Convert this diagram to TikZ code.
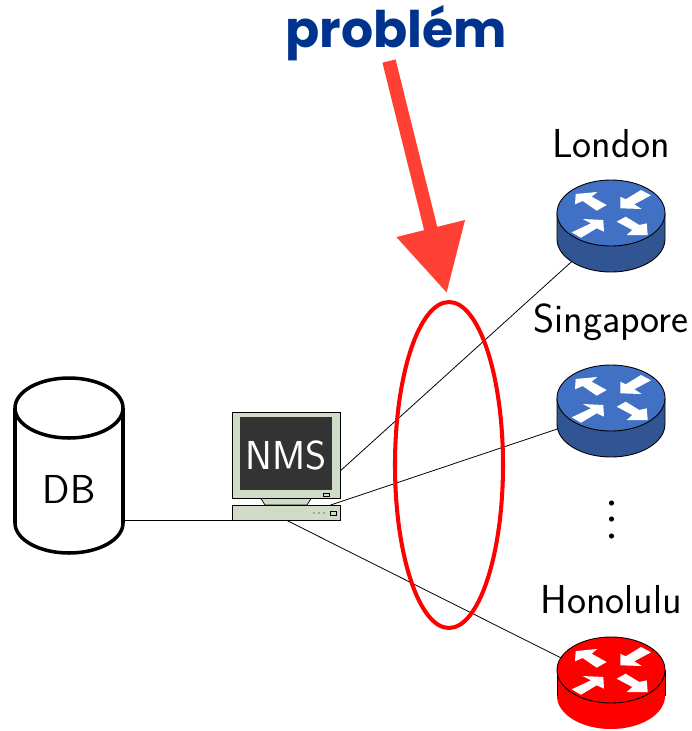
\documentclass[tikz,border=0pt]{standalone}
\usepackage{fontspec}
\newfontfamily\titlefont{Poppins}
\usetikzlibrary{arrows.meta,shapes.geometric}
\definecolor{routerblue}{RGB}{65,113,196}
\definecolor{nmsface}{RGB}{208,220,200}
\definecolor{nmsscreen}{RGB}{51,51,51}
\definecolor{titleblue}{RGB}{0,51,141}
\definecolor{arrowred}{RGB}{255,64,52}
\newcommand{\routerarrows}{
  \fill[white] (-36,-8.7) -- (-35.3,-19) -- (-13.7,-21) -- (-19.3,-16.3) -- (-4.3,-8) -- (-14.3,-2.3) -- (-28.3,-12) -- cycle;
  \fill[white] (9.3,-4.7) -- (30.7,-4) -- (23.3,-8.7) -- (40,-17.7) -- (30,-23) -- (14.7,-13.7) -- (9.3,-16.3) -- cycle;
  \fill[white] (-7.7,7) -- (-28.3,6) -- (-20,10.3) -- (-39.3,19.3) -- (-30,24.7) -- (-14.3,15.3) -- (-7,18.7) -- cycle;
  \fill[white] (36.7,22) -- (15.7,22) -- (21.3,17) -- (5.7,8.7) -- (14.7,3.7) -- (28.3,12) -- (35.7,10.3) -- cycle;
}
\tikzset{
  place/.style={font=\sffamily\fontsize{23}{28}\selectfont, inner sep=0pt},
  link/.style={draw=black, line width=0.45pt},
  router/.pic={
    \fill[#1!75!black] (-54,0) -- (-54,26) arc[x radius=54, y radius=33, start angle=180, end angle=0] -- (54,0) -- cycle;
    \draw[line width=0.5pt] (-54,0) -- (-54,26) arc[x radius=54, y radius=33, start angle=180, end angle=0] -- (54,0);
    \draw[fill=#1, line width=0.5pt] (0,0) ellipse[x radius=54, y radius=33];
    \routerarrows
  },
  redrouter/.pic={
    \fill[red] (-54,0) -- (-54,26) arc[x radius=54, y radius=33, start angle=180, end angle=0] -- (54,0) -- cycle;
    \draw[line width=0.5pt] (-54,0) -- (-54,26);
    \draw[line width=0.5pt] (54,0) -- (54,26);
    \draw[fill=red, line width=0.5pt] (0,0) ellipse[x radius=54, y radius=33];
    \routerarrows
  }
}
\begin{document}
\begin{tikzpicture}[x=0.02cm, y=-0.02cm]
  \useasboundingbox (0,0) rectangle (692,731);
  \coordinate (nms) at (286,520);
  \coordinate (london) at (611,226);
  \coordinate (singapore) at (611,411);
  \coordinate (honolulu) at (611,683);
  \coordinate (arrowstart) at (389,61);

  \foreach \x in {london, singapore, honolulu} {
    \draw[link] (nms) -- (\x);
  }
  \draw[link] (69,520) -- (nms);

  \draw[line width=2pt, fill=white] (15,408) -- (15,523) arc[x radius=54, y radius=30, start angle=180, end angle=0] -- (123,408);
  \draw[line width=2pt, fill=white] (69,408) ellipse[x radius=54, y radius=30];
  \node[place] (db) at (69,489) {DB};

  \draw[fill=nmsface, line width=0.4pt] (260,497) -- (265,505) -- (307,505) -- (312,497) -- cycle;
  \draw[fill=nmsface, line width=0.5pt] (232,412) rectangle (340,498);
  \fill[nmsscreen] (240,417) rectangle (332,490);
  \draw[fill=nmsface, line width=0.5pt] (323,493) rectangle (329,496);
  \draw[fill=nmsface, line width=0.5pt] (232,505) rectangle (340,520);
  \draw[fill=nmsface, line width=0.5pt] (330,511) rectangle (336,515);
  \foreach \x in {314, 319, 324} {
    \fill[black] (\x,513) circle (0.7);
  }
  \node[place, text=white] (nmslabel) at (286,455) {NMS};

  \pic at (611,213) {router=routerblue};
  \pic at (611,398) {router=routerblue};
  \pic at (611,670) {redrouter};

  \node[place] (londonlabel) at (611,144) {London};
  \node[place] (singaporelabel) at (611,322) {Singapore};
  \node[place] (honolululabel) at (611,600) {Honolulu};
  \foreach \y in {503, 519, 536} {
    \fill[black] (611.5,\y) circle (2.6);
  }

  \node[ellipse, draw=red, line width=2.3pt, minimum width=108*0.02cm, minimum height=326*0.02cm, inner sep=0pt, outer sep=0pt] (gapring) at (449,465) {};
  \node[font=\titlefont\bfseries\fontsize{28.7}{34}\selectfont, text=titleblue, inner sep=0pt] (problem) at (396,33) {problém};
  \draw[arrowred, line width=7.7pt, shorten >=9*0.02cm, -{Triangle[length=38pt, width=38pt]}] (arrowstart) -- (gapring.north);
\end{tikzpicture}
\end{document}
